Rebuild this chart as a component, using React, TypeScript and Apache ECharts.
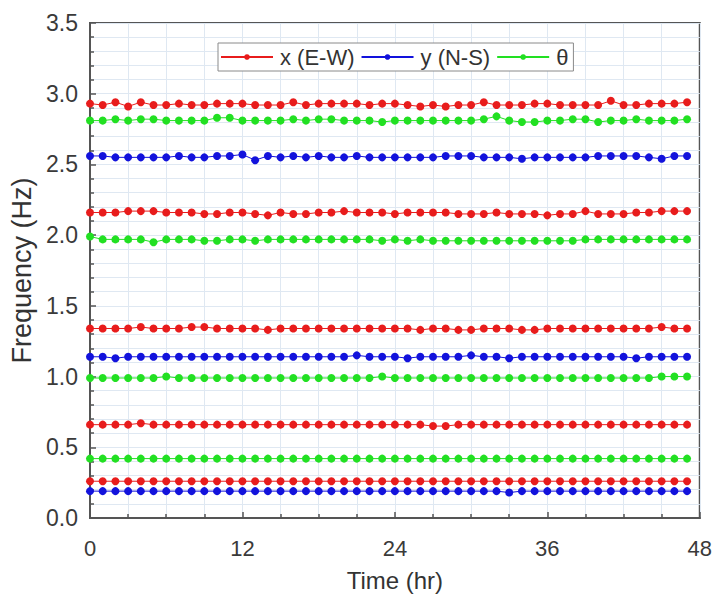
import React, { useEffect, useRef } from "react";
import * as echarts from "echarts";

const hours: number[] = Array.from({ length: 48 }, (_, i) => i);

// x (E-W) modes
const xMode1 = [2.93,2.92,2.94,2.91,2.94,2.92,2.92,2.93,2.92,2.92,2.93,2.93,2.93,2.92,2.92,2.92,2.94,2.92,2.93,2.93,2.93,2.93,2.92,2.93,2.93,2.92,2.91,2.92,2.91,2.92,2.92,2.94,2.92,2.92,2.92,2.93,2.93,2.92,2.92,2.92,2.92,2.95,2.92,2.92,2.93,2.93,2.93,2.94];
const xMode2 = [2.16,2.16,2.16,2.17,2.17,2.17,2.16,2.16,2.16,2.15,2.15,2.16,2.16,2.15,2.14,2.16,2.15,2.15,2.16,2.16,2.17,2.16,2.16,2.16,2.15,2.16,2.16,2.16,2.16,2.15,2.15,2.15,2.16,2.15,2.15,2.15,2.14,2.15,2.15,2.17,2.15,2.15,2.15,2.16,2.16,2.17,2.17,2.17];
const xMode3 = [1.34,1.34,1.34,1.34,1.35,1.34,1.34,1.34,1.35,1.35,1.34,1.34,1.34,1.34,1.33,1.34,1.34,1.34,1.34,1.34,1.34,1.34,1.34,1.34,1.34,1.34,1.33,1.34,1.34,1.33,1.33,1.34,1.34,1.34,1.33,1.33,1.34,1.34,1.34,1.34,1.34,1.34,1.34,1.34,1.34,1.35,1.34,1.34];
const xMode4 = [0.66,0.66,0.66,0.66,0.67,0.66,0.66,0.66,0.66,0.66,0.66,0.66,0.66,0.66,0.66,0.66,0.66,0.66,0.66,0.66,0.66,0.66,0.66,0.66,0.66,0.66,0.66,0.65,0.65,0.66,0.66,0.66,0.66,0.66,0.66,0.66,0.66,0.66,0.66,0.66,0.66,0.66,0.66,0.66,0.66,0.66,0.66,0.66];
const xMode5 = [0.26,0.26,0.26,0.26,0.26,0.26,0.26,0.26,0.26,0.26,0.26,0.26,0.26,0.26,0.26,0.26,0.26,0.26,0.26,0.26,0.26,0.26,0.26,0.26,0.26,0.26,0.26,0.26,0.26,0.26,0.26,0.26,0.26,0.26,0.26,0.26,0.26,0.26,0.26,0.26,0.26,0.26,0.26,0.26,0.26,0.26,0.26,0.26];

// y (N-S) modes
const yMode1 = [2.56,2.56,2.55,2.55,2.55,2.55,2.55,2.56,2.55,2.55,2.56,2.56,2.57,2.53,2.56,2.55,2.56,2.55,2.56,2.55,2.55,2.56,2.55,2.55,2.55,2.55,2.55,2.55,2.56,2.56,2.56,2.55,2.55,2.55,2.54,2.55,2.55,2.55,2.55,2.55,2.56,2.56,2.56,2.56,2.55,2.54,2.56,2.56];
const yMode2 = [1.14,1.14,1.13,1.14,1.14,1.14,1.14,1.14,1.14,1.14,1.14,1.14,1.14,1.14,1.14,1.14,1.14,1.14,1.14,1.14,1.14,1.15,1.14,1.14,1.14,1.13,1.14,1.14,1.14,1.14,1.15,1.14,1.14,1.13,1.14,1.14,1.14,1.14,1.14,1.14,1.14,1.14,1.14,1.13,1.14,1.14,1.14,1.14];
const yMode3 = [0.19,0.19,0.19,0.19,0.19,0.19,0.19,0.19,0.19,0.19,0.19,0.19,0.19,0.19,0.19,0.19,0.19,0.19,0.19,0.19,0.19,0.19,0.19,0.19,0.19,0.19,0.19,0.19,0.19,0.19,0.19,0.19,0.19,0.18,0.19,0.19,0.19,0.19,0.19,0.19,0.19,0.19,0.19,0.19,0.19,0.19,0.19,0.19];

// θ modes
const tMode1 = [2.81,2.81,2.82,2.81,2.82,2.82,2.81,2.81,2.81,2.81,2.83,2.83,2.81,2.81,2.81,2.81,2.82,2.81,2.82,2.82,2.81,2.81,2.81,2.80,2.81,2.81,2.81,2.81,2.81,2.81,2.81,2.82,2.84,2.81,2.80,2.80,2.81,2.81,2.82,2.82,2.80,2.81,2.81,2.82,2.81,2.81,2.81,2.82];
const tMode2 = [1.99,1.97,1.97,1.97,1.97,1.95,1.97,1.97,1.97,1.96,1.96,1.97,1.97,1.96,1.97,1.97,1.97,1.97,1.97,1.97,1.97,1.97,1.97,1.96,1.97,1.96,1.97,1.96,1.96,1.96,1.96,1.96,1.96,1.96,1.96,1.96,1.96,1.96,1.96,1.97,1.97,1.97,1.97,1.97,1.97,1.97,1.97,1.97];
const tMode3 = [0.99,0.99,0.99,0.99,0.99,0.99,1.00,0.99,0.99,0.99,0.99,0.99,0.99,0.99,0.99,0.99,0.99,0.99,0.99,0.99,0.99,0.99,0.99,1.00,0.99,0.99,0.99,0.99,0.99,0.99,0.99,0.99,0.99,0.99,0.99,0.99,0.99,0.99,0.99,0.99,0.99,0.99,0.99,0.99,0.99,1.00,1.00,1.00];
const tMode4 = [0.42,0.42,0.42,0.42,0.42,0.42,0.42,0.42,0.42,0.42,0.42,0.42,0.42,0.42,0.42,0.42,0.42,0.42,0.42,0.42,0.42,0.42,0.42,0.42,0.42,0.42,0.42,0.42,0.42,0.42,0.42,0.42,0.42,0.42,0.42,0.42,0.42,0.42,0.42,0.42,0.42,0.42,0.42,0.42,0.42,0.42,0.42,0.42];

const xTicks = [0, 12, 24, 36, 48];
const yTicks = [0, 0.5, 1.0, 1.5, 2.0, 2.5, 3.0, 3.5];

const seriesNames = ["x (E-W)", "y (N-S)", "θ"];
const seriesColors = ["#e81c1c", "#1212dc", "#22e022"];
const modeGroups: number[][][] = [
  [xMode1, xMode2, xMode3, xMode4, xMode5],
  [yMode1, yMode2, yMode3],
  [tMode1, tMode2, tMode3, tMode4],
];

export default function App() {
  const ref = useRef<HTMLDivElement>(null);
  useEffect(() => {
    if (!ref.current) return;
    const chart = echarts.init(ref.current, null, { renderer: "svg" });
    const series: any[] = [];
    modeGroups.forEach((modes, gi) => {
      modes.forEach((vals) => {
        series.push({
          name: seriesNames[gi],
          type: "line",
          data: vals.map((v, i) => [hours[i], v]),
          symbol: "circle",
          symbolSize: 8,
          showSymbol: true,
          lineStyle: { color: seriesColors[gi], width: 1 },
          itemStyle: { color: seriesColors[gi] },
          z: 3,
        });
      });
    });
    const font = "Arial, 'Liberation Sans', sans-serif";
    chart.setOption({
      animation: false,
      backgroundColor: "#ffffff",
      color: seriesColors,
      grid: {
        left: 90,
        right: 15,
        top: 23,
        bottom: 79,
        show: true,
        borderColor: "#555555",
        borderWidth: 2,
        backgroundColor: "transparent",
      },
      legend: {
        data: seriesNames,
        left: 218,
        top: 43,
        orient: "horizontal",
        itemWidth: 52,
        itemHeight: 7,
        itemGap: 6,
        padding: [3, 5, 3, 2],
        borderColor: "#8a8a8a",
        borderWidth: 1,
        backgroundColor: "#ffffff",
        textStyle: { fontFamily: font, fontSize: 22, color: "#333333", padding: [0, 0, 0, 2] },
      },
      xAxis: {
        type: "value",
        min: 0,
        max: 48,
        interval: 12,
        name: "Time (hr)",
        nameLocation: "middle",
        nameGap: 50,
        nameTextStyle: { fontFamily: font, fontSize: 24, color: "#333333" },
        axisLine: { show: true, lineStyle: { color: "#555555", width: 2 } },
        axisTick: { show: true, inside: true, length: 6, lineStyle: { color: "#555555", width: 1.5 } },
        minorTick: { show: true, splitNumber: 4, length: 4, lineStyle: { color: "#555555", width: 1.5 } },
        axisLabel: {
          fontFamily: font,
          fontSize: 22,
          color: "#3a3a3a",
          margin: 19,
          formatter: (v: number) => (xTicks.includes(v) ? String(v) : ""),
        },
        splitLine: { show: true, lineStyle: { color: "#dfe8f2", width: 1 } },
        minorSplitLine: { show: true, lineStyle: { color: "#dfe8f2", width: 1 } },
      },
      yAxis: {
        type: "value",
        min: 0,
        max: 3.5,
        interval: 0.5,
        name: "Frequency (Hz)",
        nameLocation: "middle",
        nameGap: 55,
        nameTextStyle: { fontFamily: font, fontSize: 27, color: "#333333" },
        axisLine: { show: true, lineStyle: { color: "#555555", width: 2 } },
        axisTick: { show: true, inside: true, length: 6, lineStyle: { color: "#555555", width: 1.5 } },
        minorTick: { show: true, splitNumber: 5, length: 4, lineStyle: { color: "#555555", width: 1.5 } },
        axisLabel: {
          fontFamily: font,
          fontSize: 23,
          color: "#3a3a3a",
          margin: 12,
          formatter: (v: number) => (yTicks.some((t) => Math.abs(t - v) < 1e-9) ? v.toFixed(1) : ""),
        },
        splitLine: { show: true, lineStyle: { color: "#dfe8f2", width: 1 } },
        minorSplitLine: { show: true, lineStyle: { color: "#dfe8f2", width: 1 } },
      },
      series,
    });
    return () => chart.dispose();
  }, []);
  return (
    <div
      ref={ref}
      style={{ position: "fixed", left: 0, top: 0, width: 715, height: 597 }}
    />
  );
}
